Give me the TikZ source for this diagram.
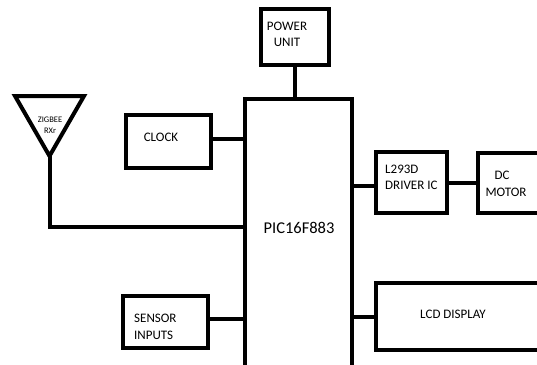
\documentclass[tikz,border=0pt]{standalone}
\usepackage{fontspec}
\setmainfont{Carlito}
\usepackage{tikz}
\usetikzlibrary{positioning, calc}

\begin{document}
\begin{tikzpicture}[x=1pt, y=-1pt,
            caja/.style={rectangle, draw, line width=4pt, fill=white, inner sep=0pt},
            cable/.style={draw, line width=4pt},
            rotulo/.style={align=center, inner sep=0pt, font=\fontsize{13}{16.5}\selectfont},
            rotuloizq/.style={rotulo, align=left, anchor=west}]

            \useasboundingbox (0,0) rectangle (537,364);
            \clip (0,0) rectangle (537,364);

            \node[caja, minimum width=107pt, minimum height=301pt] (pic) at (298.5,249.5) {};
            \node[caja, minimum width=68pt, minimum height=56pt] (power) at (295,37) {};
            \node[caja, minimum width=85pt, minimum height=53pt] (clock) at (168.5,141.5) {};
            \node[caja, minimum width=85pt, minimum height=52pt] (sensor) at (165.5,322) {};
            \node[caja, minimum width=71pt, minimum height=61pt] (driver) at (411.5,182.5) {};
            \node[caja, minimum width=100pt, minimum height=60pt] (motor) at (528,183) {};
            \node[caja, minimum width=200pt, minimum height=67pt] (lcd) at (476,316.5) {};

            % antena
            \coordinate (antL) at (15,96);
            \coordinate (antR) at (84,96);
            \coordinate (antV) at (49.5,156);
            \draw[line width=4pt, line join=miter] (antL) -- (antR) -- (antV) -- cycle;

            \node[rotulo] (power text) at (287,34.5) {POWER\\UNIT};
            \node[rotulo] (clock text) at (161,137) {CLOCK};
            \node[rotuloizq] (sensor text) at (134,327) {SENSOR\\INPUTS};
            \node[rotuloizq] (driver text) at (385,177.5) {L293D\\DRIVER IC};
            \node[rotulo] (motor text) at (506,184) {DC\hspace*{8pt}\\MOTOR};
            \node[rotulo] (lcd text) at (453,314) {LCD DISPLAY};
            \node[rotulo, font=\fontsize{16.5}{18}\selectfont] (pic text) at (299,228) {PIC16F883};
            \node[align=center, inner sep=0pt, font=\fontsize{8.5}{11}\selectfont] (ant text) at (50,125.5) {ZIGBEE\\RXr};

            \draw[cable] (power) -- (power |- pic.north);
            \draw[cable] ([yshift=2.5pt]clock.east) -- ([yshift=2.5pt]clock.east -| pic.west);
            \draw[cable] ([yshift=3pt]sensor.east) -- ([yshift=3pt]sensor.east -| pic.west);
            \draw[cable] (antV) |- (pic.west |- 0,227);
            \draw[cable] (pic.east |- 0,186) -- (driver.west |- 0,186);
            \draw[cable] (driver.east |- 0,183) -- (motor.west |- 0,183);
            \draw[cable] (pic.east |- lcd) -- (lcd.west);
        \end{tikzpicture}
\end{document}
